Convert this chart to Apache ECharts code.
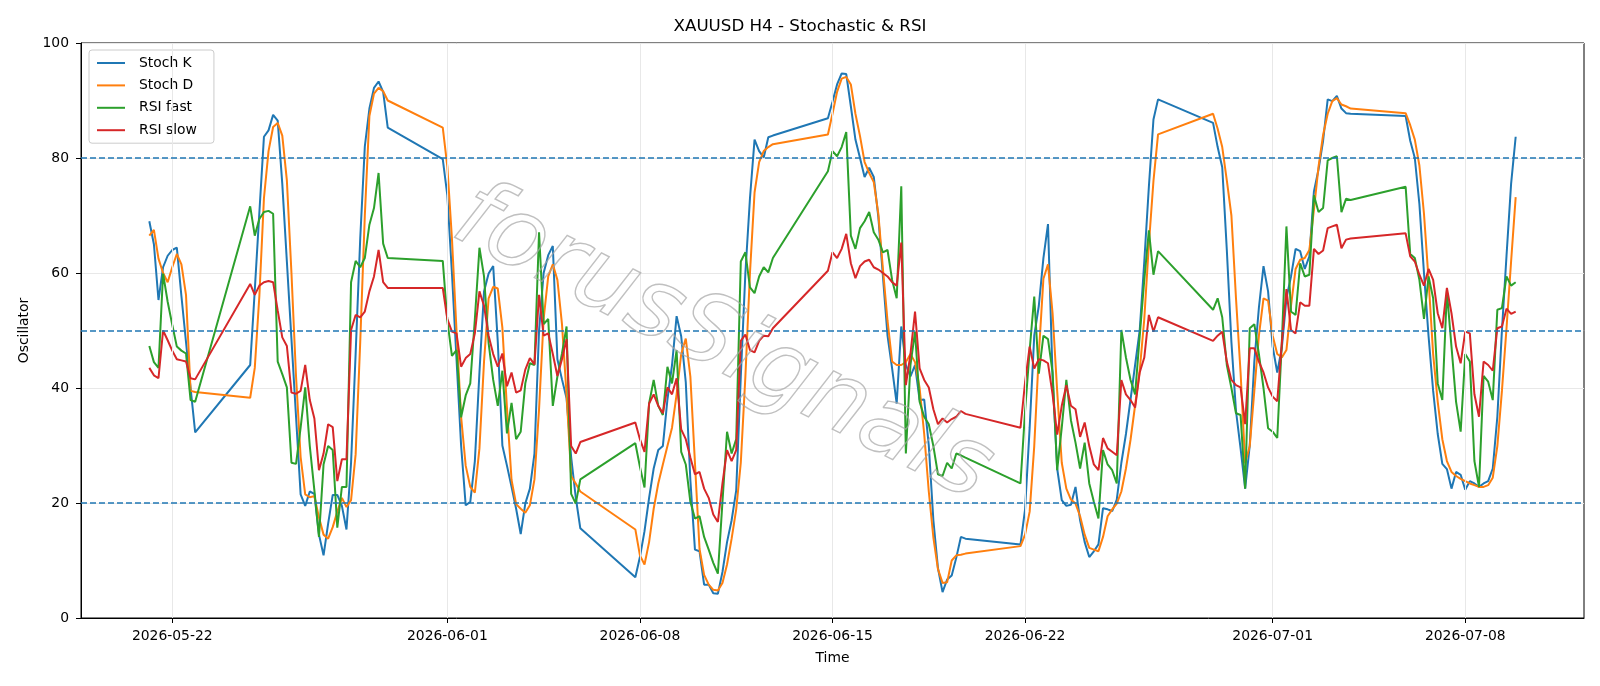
<!DOCTYPE html>
<html><head><meta charset="utf-8">
<script src="https://cdn.jsdelivr.net/npm/echarts@6/dist/echarts.min.js"></script>
<style>html,body{margin:0;padding:0;background:#fff}#c{width:1600px;height:686px}</style>
</head><body><div id="c"></div>
<script>
// H4 sessions: [first bar (UTC), number of consecutive 4h bars]
const segments = [
  ['2026-05-21T04:00:00Z', 11],
  ['2026-05-24T20:00:00Z', 31],
  ['2026-05-31T20:00:00Z', 31],
  ['2026-06-07T20:00:00Z', 31],
  ['2026-06-14T20:00:00Z', 31],
  ['2026-06-21T20:00:00Z', 31],
  ['2026-06-28T20:00:00Z', 31],
  ['2026-07-05T20:00:00Z', 25]
];
const xTickLabels = ['2026-05-22','2026-06-01','2026-06-08','2026-06-15','2026-06-22','2026-07-01','2026-07-08'];
const levels = [20, 50, 80];
const seriesNames = ['Stoch K','Stoch D','RSI fast','RSI slow'];

const stochK = [
  69.0,65.0,55.3,61.0,63.0,64.0,64.4,56.0,48.0,40.0,32.3,
  44.0,57.0,70.5,83.7,84.8,87.5,86.5,75.5,62.0,48.5,35.0,21.5,19.5,22.0,21.6,14.5,10.9,16.4,21.4,21.4,19.5,15.4,27.0,46.0,66.0,82.0,88.6,92.2,93.3,91.5,85.3,
  79.8,73.5,60.0,45.0,30.0,19.6,20.2,27.3,42.7,56.8,59.9,61.2,48.0,30.0,26.5,22.8,19.0,14.6,19.9,22.5,28.6,50.0,60.0,63.1,64.7,45.0,41.5,38.2,28.0,21.0,15.6,
  7.1,10.6,15.1,20.9,26.0,29.2,29.9,38.0,44.0,52.5,49.0,41.0,24.0,11.9,11.6,5.8,5.8,4.3,4.2,8.0,13.2,17.0,22.2,42.0,60.0,73.0,83.2,81.2,80.1,83.6,83.9,
  86.9,89.8,92.8,94.7,94.6,89.0,83.2,80.0,76.7,78.3,76.7,69.7,59.4,49.1,43.4,37.3,50.7,44.0,42.0,44.0,37.9,38.0,30.0,17.0,8.7,4.5,6.7,7.4,10.5,14.1,13.8,
  12.8,18.9,33.1,49.1,54.3,62.6,68.5,42.0,26.0,20.5,19.5,19.7,22.8,17.0,13.2,10.6,11.6,12.8,19.1,18.9,18.6,20.6,27.0,32.0,38.0,44.0,50.0,62.0,75.0,86.7,90.2,
  86.1,81.9,78.4,64.0,48.0,36.0,29.5,22.5,30.0,44.6,54.0,61.2,56.8,47.2,42.7,47.0,55.6,59.4,64.2,63.8,60.7,62.9,74.2,78.0,83.0,90.2,89.9,90.8,88.6,87.8,87.7,
  87.3,83.0,80.0,72.0,60.0,49.0,39.5,32.0,26.8,25.9,22.5,25.4,24.9,22.3,23.8,23.4,22.8,23.4,23.8,26.0,35.0,50.0,63.0,75.5,83.7
];
const stochD = [
  66.5,67.5,62.5,60.0,58.4,61.0,63.3,61.5,56.2,39.5,39.3,
  38.3,43.5,56.0,73.0,81.2,85.4,86.1,83.9,76.1,60.0,42.0,28.0,21.5,21.0,21.2,17.5,14.5,13.8,15.8,18.5,20.9,19.3,20.5,28.5,48.0,70.0,87.3,91.2,92.2,91.6,90.0,
  85.3,78.5,66.0,50.0,35.0,26.5,22.8,21.8,29.5,44.6,55.6,57.6,57.3,50.5,36.5,24.0,19.8,19.0,18.3,19.6,24.1,36.3,52.0,59.4,61.5,58.8,51.1,38.9,24.7,23.4,22.0,
  15.4,10.9,9.3,13.2,19.0,23.4,26.7,29.9,33.1,38.9,45.9,48.6,42.0,27.0,12.0,7.5,5.8,4.9,4.8,6.1,9.3,13.8,18.9,27.0,42.0,60.0,74.0,79.3,81.2,81.9,82.4,
  84.1,87.7,91.5,93.8,94.1,92.8,87.7,83.8,79.3,77.4,75.8,70.3,60.7,51.7,44.6,44.0,44.0,44.5,45.9,44.5,40.0,32.0,22.0,14.0,8.5,6.1,6.2,10.0,10.9,11.0,11.2,
  12.5,14.5,18.5,29.9,45.9,59.0,61.5,53.0,39.5,27.0,22.5,20.6,19.9,17.7,14.5,12.2,11.9,11.6,14.1,17.7,18.9,19.9,22.0,26.0,31.0,37.0,43.0,52.0,65.0,76.0,84.1,
  87.7,85.1,81.9,76.1,70.0,55.6,42.7,26.9,29.9,39.5,49.1,55.6,55.2,49.1,45.9,45.3,46.6,54.3,60.7,62.3,62.6,64.0,71.0,78.5,84.0,87.7,89.9,90.4,89.3,89.0,88.6,
  87.8,85.7,83.2,78.7,70.3,58.8,45.9,37.6,31.1,27.3,25.4,24.7,24.2,23.8,23.4,23.1,22.8,22.8,23.1,24.4,29.9,39.5,50.4,62.0,73.2
];
const rsiFast = [
  47.3,44.5,43.5,59.9,55.0,51.0,47.2,46.5,46.0,37.9,37.6,
  71.6,66.5,69.4,70.6,70.8,70.3,44.6,42.4,40.1,27.0,26.8,33.1,40.1,29.9,22.2,14.1,26.7,29.9,29.2,15.7,22.8,22.8,58.4,62.1,61.0,62.6,68.4,71.3,77.4,65.1,62.6,
  62.1,51.7,45.6,46.6,34.9,38.7,40.8,52.0,64.4,59.4,47.8,41.4,36.9,43.0,32.1,37.4,31.1,32.4,40.8,44.3,44.0,67.1,51.1,52.0,36.9,42.0,46.0,50.7,21.6,19.9,24.1,
  30.4,26.3,22.7,37.3,41.4,36.9,35.3,43.7,40.8,46.6,28.9,26.7,20.2,17.3,17.7,14.1,11.9,9.6,7.7,20.2,32.4,28.6,31.1,62.0,63.6,57.5,56.5,59.4,61.0,60.1,62.6,
  77.7,81.2,80.3,81.9,84.5,66.5,64.2,67.8,69.0,70.6,67.1,65.8,63.6,64.0,58.8,55.6,75.1,28.6,44.0,49.8,37.6,35.0,33.7,29.9,25.0,24.7,27.0,26.0,28.6,28.3,27.9,
  23.4,36.0,46.6,55.9,42.5,49.1,48.5,42.7,25.7,33.1,41.4,34.4,30.5,26.0,30.5,23.4,20.2,17.3,29.2,26.7,25.7,23.4,50.1,45.3,41.4,38.9,49.0,58.8,67.4,59.7,63.8,
  53.6,55.6,52.3,44.0,40.0,35.6,35.3,22.5,50.4,51.1,45.9,40.0,33.0,32.4,31.3,48.0,68.1,53.3,52.7,61.7,59.4,59.7,73.5,70.6,71.3,79.6,80.0,80.3,70.6,72.9,72.7,
  75.0,63.3,62.6,58.8,52.0,59.4,55.6,40.8,37.9,56.8,47.2,37.6,32.4,45.9,44.6,27.3,22.8,42.1,41.1,37.9,53.6,53.9,59.4,57.8,58.4
];
const rsiSlow = [
  43.5,42.2,41.7,50.0,48.3,46.5,45.0,44.8,44.6,41.7,41.5,
  58.1,56.2,57.8,58.4,58.6,58.4,53.5,48.8,47.3,39.2,39.0,39.5,44.0,37.9,34.7,25.7,28.6,33.7,33.2,23.8,27.6,27.6,50.1,52.7,52.3,53.3,56.8,59.4,64.0,58.4,57.4,
  57.4,52.0,49.8,49.5,43.7,45.2,45.9,49.5,56.8,54.3,49.1,45.9,43.7,46.0,40.3,42.7,39.2,39.6,43.2,45.2,44.1,56.2,49.1,49.5,45.9,42.1,45.0,48.5,29.9,28.6,30.6,
  34.0,31.1,28.9,37.3,38.9,36.9,35.6,40.1,38.9,41.7,32.8,31.1,27.9,25.0,25.4,22.5,20.9,18.0,16.7,23.4,29.2,27.3,29.2,48.2,49.3,46.6,46.2,48.2,49.1,49.0,50.4,
  60.4,63.6,62.6,64.2,66.8,61.7,59.1,61.2,62.0,62.3,61.0,60.6,60.0,59.4,58.4,57.8,65.3,40.5,45.9,53.3,43.4,41.4,40.1,36.3,33.7,34.7,34.0,34.6,35.0,36.0,35.5,
  33.1,41.0,47.2,43.4,45.0,44.8,44.3,38.9,31.9,36.9,40.5,36.9,36.3,31.5,34.0,29.9,26.7,25.7,31.3,29.5,28.9,28.3,41.4,38.9,37.9,36.6,42.7,45.3,52.7,49.8,52.3,
  48.2,49.1,49.8,44.6,41.4,40.5,40.1,33.7,46.9,46.9,44.6,42.7,40.1,38.5,37.7,47.8,57.2,50.1,49.5,54.9,54.3,54.3,64.2,63.3,63.9,67.8,68.1,68.4,64.3,65.8,66.0,
  66.9,62.9,62.0,59.7,57.8,60.7,58.8,53.0,50.4,57.4,53.0,47.2,44.3,49.8,49.5,38.9,35.0,44.6,44.0,43.0,50.4,50.7,53.8,52.9,53.3
];

const H4 = 4 * 3600 * 1000;
const times = [];
segments.forEach(([start, n]) => {
  const t0 = Date.parse(start);
  for (let i = 0; i < n; i++) times.push(t0 + i * H4);
});
const tickTs = xTickLabels.map(s => Date.parse(s + 'T00:00:00Z'));
const labelOf = {};
tickTs.forEach((t, i) => { labelOf[t] = xTickLabels[i]; });
const span = times[times.length - 1] - times[0];
const xMin = times[0] - 0.05 * span;
const xMax = times[times.length - 1] + 0.05 * span;
const pair = arr => arr.map((v, i) => [times[i], v]);

const FONT = 'DejaVu Sans';
const colors = ['#1f77b4', '#ff7f0e', '#2ca02c', '#d62728'];
const values = [stochK, stochD, rsiFast, rsiSlow];

const chart = echarts.init(document.getElementById('c'), null, { renderer: 'canvas' });
const lineSeries = seriesNames.map((name, i) => ({
  name, type: 'line', data: pair(values[i]), showSymbol: false, symbol: 'none',
  lineStyle: { color: colors[i], width: 2 }, itemStyle: { color: colors[i] },
  z: 3, animation: false
}));

chart.setOption({
  animation: false,
  backgroundColor: '#ffffff',
  title: {
    text: 'XAUUSD H4 - Stochastic & RSI', left: 'center', top: 13,
    textStyle: { fontFamily: FONT, fontSize: 16.7, fontWeight: 'normal', color: '#000' }
  },
  grid: { left: 81, right: 16, top: 43, bottom: 68, show: true, borderColor: '#000', borderWidth: 1, backgroundColor: 'transparent' },
  legend: {
    data: seriesNames, orient: 'vertical', left: 89, top: 50,
    padding: [6, 17, 6, 8], itemGap: 8.4, itemWidth: 28, itemHeight: 2, icon: 'rect',
    backgroundColor: 'rgba(255,255,255,0.8)', borderColor: '#cccccc', borderWidth: 1, borderRadius: 3,
    textStyle: { fontFamily: FONT, fontSize: 13.9, color: '#000', padding: [0, 0, 0, 9] }
  },
  xAxis: {
    type: 'value', min: xMin, max: xMax,
    name: 'Time', nameLocation: 'middle', nameGap: 33,
    nameTextStyle: { fontFamily: FONT, fontSize: 13.9, color: '#000' },
    axisLine: { show: true, onZero: false, lineStyle: { color: '#000', width: 1 } },
    axisTick: { show: true, customValues: tickTs, length: 5, lineStyle: { color: '#000' } },
    axisLabel: { customValues: tickTs, formatter: v => labelOf[v] || '', margin: 11, fontFamily: FONT, fontSize: 13.9, color: '#000', hideOverlap: false },
    splitLine: { show: false }
  },
  yAxis: {
    type: 'value', min: 0, max: 100, interval: 20,
    name: 'Oscillator', nameLocation: 'middle', nameGap: 50,
    nameTextStyle: { fontFamily: FONT, fontSize: 13.9, color: '#000' },
    axisLine: { show: true, lineStyle: { color: '#000', width: 1 } },
    axisTick: { show: true, length: 5, lineStyle: { color: '#000' } },
    axisLabel: { margin: 12, fontFamily: FONT, fontSize: 13.9, color: '#000' },
    splitLine: { show: true, lineStyle: { color: '#e8e8e8', width: 1 } }
  },
  series: [
    {
      name: 'vgrid', type: 'line', data: [], z: 1, silent: true,
      markLine: {
        silent: true, symbol: ['none', 'none'], label: { show: false }, animation: false,
        lineStyle: { color: '#e8e8e8', type: 'solid', width: 1 },
        data: tickTs.map(t => ({ xAxis: t }))
      }
    },
    ...lineSeries,
    {
      name: 'levels', type: 'line', data: [], z: 4, silent: true,
      markLine: {
        silent: true, symbol: ['none', 'none'], label: { show: false }, animation: false,
        emphasis: { disabled: true },
        lineStyle: { color: '#1f77b4', type: [6, 3], width: 1.5, opacity: 1 },
        data: levels.map(v => ({ yAxis: v }))
      }
    }
  ],
  graphic: [{
    type: 'text', x: 722, y: 345, rotation: -0.47, z: 100, silent: true,
    style: {
      text: 'forusSignals', fontSize: 96, fontFamily: FONT, fontStyle: 'italic',
      fill: 'rgba(0,0,0,0)', stroke: 'rgba(165,165,165,0.7)', lineWidth: 1.4,
      align: 'center', verticalAlign: 'middle'
    }
  }]
});
</script>
</body></html>
